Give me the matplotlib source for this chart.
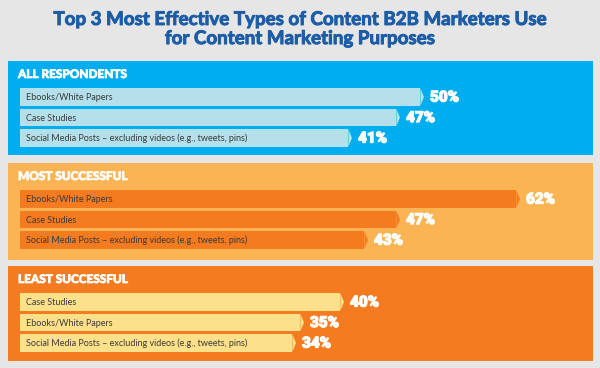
import matplotlib.pyplot as plt
import matplotlib.patheffects as pe

# data
panel_titles = ['ALL RESPONDENTS', 'MOST SUCCESSFUL', 'LEAST SUCCESSFUL']
labels_all = ['Ebooks/White Papers', 'Case Studies',
              'Social Media Posts – excluding videos (e.g., tweets, pins)']
values_all = [50, 47, 41]
labels_most = ['Ebooks/White Papers', 'Case Studies',
               'Social Media Posts – excluding videos (e.g., tweets, pins)']
values_most = [62, 47, 43]
labels_least = ['Case Studies', 'Ebooks/White Papers',
                'Social Media Posts – excluding videos (e.g., tweets, pins)']
values_least = [40, 35, 34]

title = 'Top 3 Most Effective Types of Content B2B Marketers Use\nfor Content Marketing Purposes'

# colours: (panel background, bar colour)
panel_colors = [('#00aeef', '#b3e0ea'), ('#fbb454', '#f47b20'), ('#f47b20', '#fde18a')]

plt.rcParams['font.family'] = ['Lato', 'DejaVu Sans']

W, H = 600, 368
fig = plt.figure(figsize=(6, 3.68), dpi=100, facecolor='#e6e6e6')

fig.text(0.5, 1 - 29 / H, title, ha='center', va='center', fontsize=13.5,
         fontweight='bold', color='#1d5da6', linespacing=1.15,
         path_effects=[pe.withStroke(linewidth=0.7, foreground='#1d5da6')])

panels = [(61, 94, labels_all, values_all),
          (163, 97, labels_most, values_most),
          (266, 95, labels_least, values_least)]

px_per_unit = 8.0
zero_px = 24
left_px, right_px = 8, 593
spacing = 20.5
first_c = 36.0
bar_h = 17.5

for (top, h, labels, values), name, (bg, barc) in zip(panels, panel_titles, panel_colors):
    ax = fig.add_axes([left_px / W, 1 - (top + h) / H, (right_px - left_px) / W, h / H])
    ax.set_xlim((left_px - zero_px) / px_per_unit, (right_px - zero_px) / px_per_unit)
    ax.set_ylim((h - first_c) / spacing, -first_c / spacing)
    ax.set_axis_off()
    ax.add_patch(plt.Rectangle((0, 0), 1, 1, transform=ax.transAxes, color=bg, zorder=0))

    tip = 0.45
    x0 = -0.5
    ys = list(range(len(values)))
    hh = bar_h / spacing
    ax.barh(ys, [v - tip - x0 for v in values], left=x0, height=hh, color=barc, zorder=2)
    for y, v, lab in zip(ys, values, labels):
        ax.fill([v - tip, v, v - tip], [y - hh / 2, y, y + hh / 2], color=barc, zorder=2,
                lw=0)
        ax.text(0.25, y + 0.03, lab, ha='left', va='center', fontsize=6.5,
                color='#3a3a3a', zorder=3)
        ax.text(v + 0.75, y + 0.03, f'{v}%', ha='left', va='center', fontsize=11,
                fontfamily=['Roboto', 'DejaVu Sans'], fontweight='black', color='white',
                zorder=3, path_effects=[pe.withStroke(linewidth=0.8, foreground='white')])
    ax.text(-0.75, (13.5 - first_c) / spacing, name, ha='left', va='center',
            fontsize=8.5, fontweight='black', color='white', zorder=3,
            path_effects=[pe.withStroke(linewidth=0.5, foreground='white')])

fig.savefig('out.png', dpi=100, facecolor=fig.get_facecolor())
